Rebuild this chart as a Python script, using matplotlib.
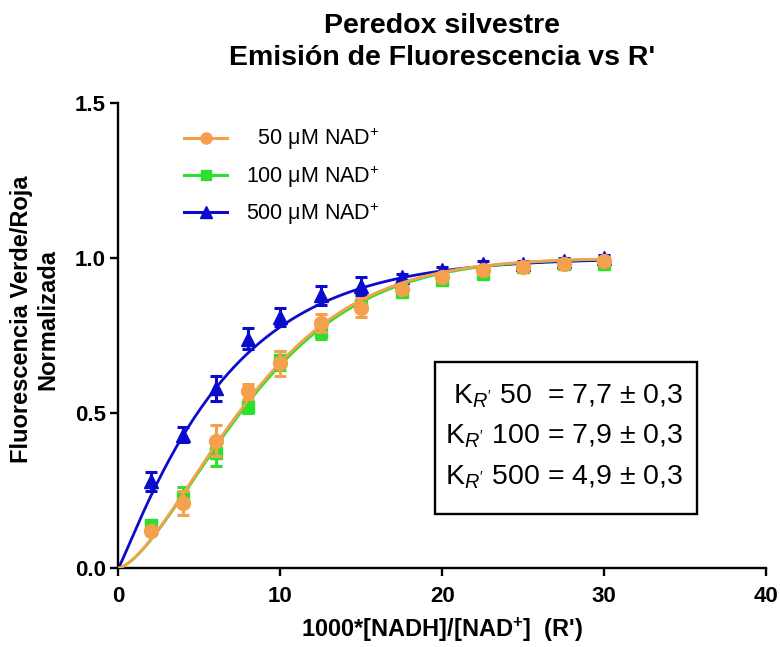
import numpy as np
import matplotlib
matplotlib.use("Agg")
import matplotlib.pyplot as plt
from matplotlib.lines import Line2D
from matplotlib.patches import Rectangle

plt.rcParams['font.family'] = ['Liberation Sans', 'DejaVu Sans']
plt.rcParams['mathtext.fontset'] = 'custom'
plt.rcParams['mathtext.rm'] = 'Liberation Sans'
plt.rcParams['mathtext.it'] = 'Liberation Sans:italic'
plt.rcParams['mathtext.bf'] = 'Liberation Sans:bold'

# ---- data ----
x_vals = [2, 4, 6, 8, 10, 12.5, 15, 17.5, 20, 22.5, 25, 27.5, 30]

y_50 = [0.12, 0.21, 0.41, 0.57, 0.66, 0.79, 0.84, 0.90, 0.94, 0.96, 0.97, 0.98, 0.99]
e_50 = [0.01, 0.04, 0.05, 0.025, 0.04, 0.03, 0.03, 0.01, 0.01, 0.01, 0.01, 0.01, 0.01]

y_100 = [0.14, 0.23, 0.37, 0.52, 0.67, 0.76, 0.85, 0.89, 0.93, 0.95, 0.97, 0.98, 0.98]
e_100 = [0.01, 0.03, 0.04, 0.02, 0.03, 0.02, 0.015, 0.01, 0.01, 0.01, 0.01, 0.01, 0.01]

y_500 = [0.28, 0.43, 0.58, 0.74, 0.81, 0.88, 0.91, 0.94, 0.96, 0.98, 0.98, 0.99, 1.0]
e_500 = [0.03, 0.025, 0.04, 0.035, 0.03, 0.03, 0.03, 0.01, 0.01, 0.01, 0.01, 0.01, 0.01]

# fitted-curve parameters (scale, shape) of the drawn fit lines
fit_50 = (9.45, 1.5)
fit_100 = (9.6, 1.5)
fit_500 = (6.85, 1.08)

labels = ["\u2007" + "50 \u03bcM NAD$^{+}$", "100 \u03bcM NAD$^{+}$", "500 \u03bcM NAD$^{+}$"]
box_lines = ["K$_{\\mathit{R'}}$ 50  = 7,7 \u00b1 0,3",
             "K$_{\\mathit{R'}}$ 100 = 7,9 \u00b1 0,3",
             "K$_{\\mathit{R'}}$ 500 = 4,9 \u00b1 0,3"]

c_orange = '#F5A04C'
c_green = '#2EE02E'
c_blue = '#0B0BCB'

W, H = 780, 647
fig = plt.figure(figsize=(W / 100, H / 100), dpi=100)
ax = fig.add_axes([118.5 / W, 1 - 568 / H, 647.5 / W, 465 / H])


def curve(xx, p):
    k, n = p
    return 1 - np.exp(-(xx / k) ** n)


xf = np.linspace(0, 30, 300)

series = [
    (y_500, e_500, fit_500, c_blue, '^', 10, 2),
    (y_100, e_100, fit_100, c_green, 's', 9, 3),
    (y_50, e_50, fit_50, c_orange, 'o', 10, 4),
]
for y, e, p, c, m, ms, z in series:
    ax.errorbar(x_vals, y, yerr=e, fmt=m, color=c, ms=ms, mec=c,
                elinewidth=2.2, capsize=4.5, capthick=2.2, zorder=z)
    ax.plot(xf, curve(xf, p), color=c, lw=2.0, zorder=z + 0.5)

ax.set_xlim(0, 40)
ax.set_ylim(0, 1.5)
ax.set_xticks([0, 10, 20, 30, 40])
ax.set_yticks([0.0, 0.5, 1.0, 1.5])
ax.set_yticklabels(["0.0", "0.5", "1.0", "1.5"])
for s in ['top', 'right']:
    ax.spines[s].set_visible(False)
for s in ['left', 'bottom']:
    ax.spines[s].set_linewidth(1.7)
ax.tick_params(width=1.7, length=6, labelsize=16)
ax.tick_params(axis='x', pad=7)
ax.tick_params(axis='y', pad=3)
for lab in ax.get_xticklabels() + ax.get_yticklabels():
    lab.set_fontweight('bold')

ax.set_xlabel("1000*[NADH]/[NAD$^{\\mathbf{+}}$]  (R')", fontsize=17,
              fontweight='bold', labelpad=6)
ax.set_ylabel("Fluorescencia Verde/Roja\nNormalizada", fontsize=17,
              fontweight='bold', linespacing=1.15)
ax.yaxis.set_label_coords(-0.092, 0.535)

fig.text(442 / W, 1 - 33 / H, "Peredox silvestre", ha='center', va='baseline',
         fontsize=20.5, fontweight='bold')
fig.text(442 / W, 1 - 65 / H, "Emisión de Fluorescencia vs R'", ha='center',
         va='baseline', fontsize=20.5, fontweight='bold')

handles = [
    Line2D([], [], color=c_orange, marker='o', ms=8, lw=2.2),
    Line2D([], [], color=c_green, marker='s', ms=7, lw=2.2),
    Line2D([], [], color=c_blue, marker='^', ms=8, lw=2.2),
]
leg = ax.legend(handles, labels, loc='upper left',
                bbox_to_anchor=(184 / W, 1 - 126 / H), bbox_transform=fig.transFigure,
                frameon=False, fontsize=15.5, handlelength=2.0, handletextpad=0.9,
                labelspacing=0.5, borderaxespad=0, borderpad=0)

ax.add_patch(Rectangle((0.489, 0.116), 0.404, 0.327, transform=ax.transAxes,
                       fill=False, ec='black', lw=1.7, zorder=5))
for yy, t in zip([0.370, 0.284, 0.196], box_lines):
    ax.text(0.872, yy, t, transform=ax.transAxes, ha='right', va='center',
            fontsize=20.5, zorder=6)

fig.savefig("out.png", dpi=100)
